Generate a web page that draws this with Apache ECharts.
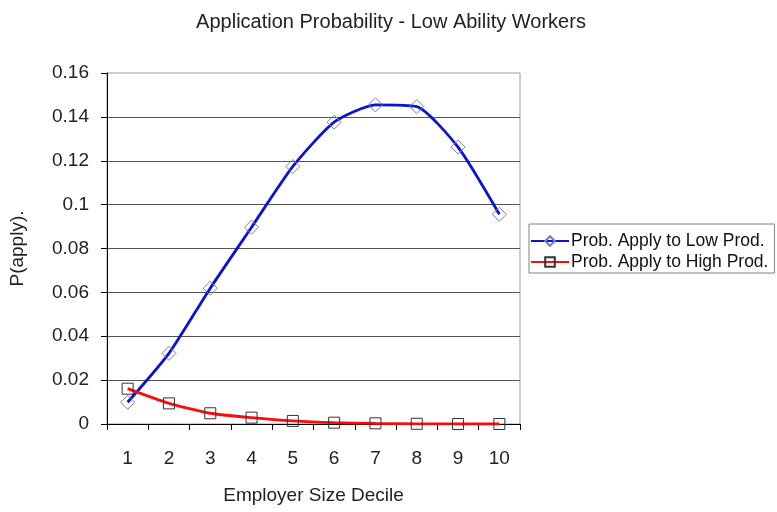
<!DOCTYPE html>
<html>
<head>
<meta charset="utf-8">
<script src="https://cdn.jsdelivr.net/npm/echarts@6/dist/echarts.min.js"></script>
<style>
html,body{margin:0;padding:0;background:#fff;}
#chart{width:777px;height:512px;}
</style>
</head>
<body>
<div id="chart"></div>
<script>
var categories = ['1','2','3','4','5','6','7','8','9','10'];
var lowProd = [0.0099, 0.0322, 0.0619, 0.0897, 0.1174, 0.1376, 0.1455, 0.1447, 0.1262, 0.0956];
var highProd = [0.0161, 0.0094, 0.0049, 0.0029, 0.0014, 0.0006, 0.0003, 0.0001, 0.0, 0.0];
var seriesNames = ['Prob. Apply to Low Prod.', 'Prob. Apply to High Prod.'];

var FONT = 'Liberation Sans, Arial, sans-serif';
var chart = echarts.init(document.getElementById('chart'), null, {renderer:'canvas'});
chart.setOption({
  animation: false,
  backgroundColor: '#fff',
  textStyle: {fontFamily: FONT},
  title: {
    text: 'Application Probability - Low Ability Workers',
    left: 386, top: 7, textAlign: 'center',
    textStyle: {fontFamily: FONT, fontSize: 20, fontWeight: 'normal', color: '#222'}
  },
  grid: {
    left: 107, right: 257, top: 73, bottom: 88,
    show: true, borderColor: '#9a9a9a', borderWidth: 1, backgroundColor: 'transparent'
  },
  legend: {
    orient: 'vertical',
    left: 529, top: 224,
    padding: [8, 6, 2, 1],
    itemGap: 3,
    itemWidth: 38, itemHeight: 12,
    borderColor: '#808080', borderWidth: 1,
    textStyle: {fontFamily: FONT, fontSize: 17.5, color: '#111', padding: [0,0,0,-3]},
    data: seriesNames
  },
  xAxis: {
    type: 'category',
    data: categories,
    boundaryGap: true,
    name: 'Employer Size Decile',
    nameLocation: 'middle',
    nameGap: 62,
    nameTextStyle: {fontFamily: FONT, fontSize: 19, color: '#222'},
    axisLine: {lineStyle: {color: '#000', width: 1}},
    axisTick: {show: true, alignWithLabel: false, length: 6, lineStyle: {color: '#000'}},
    axisLabel: {fontFamily: FONT, fontSize: 19, color: '#222', margin: 25},
    splitLine: {show: false}
  },
  yAxis: {
    type: 'value',
    min: 0, max: 0.16, interval: 0.02,
    name: 'P(apply).',
    nameLocation: 'middle',
    nameGap: 80,
    nameRotate: 90,
    nameTextStyle: {fontFamily: FONT, fontSize: 19, color: '#222'},
    axisLine: {show: true, lineStyle: {color: '#000', width: 1}},
    axisTick: {show: true, length: 6, lineStyle: {color: '#000'}},
    axisLabel: {fontFamily: FONT, fontSize: 19, color: '#222', margin: 18},
    splitLine: {show: true, showMaxLine: false, lineStyle: {color: '#555', width: 1}}
  },
  series: [
    {
      name: seriesNames[0],
      type: 'line',
      data: lowProd,
      smooth: 0.2,
      symbol: 'diamond',
      symbolSize: 14,
      lineStyle: {color: '#0a14d0', width: 2.8},
      itemStyle: {color: 'rgba(255,255,255,0)', borderColor: '#7a7ac8', borderWidth: 1}
    },
    {
      name: seriesNames[1],
      type: 'line',
      data: highProd,
      smooth: 0.2,
      symbol: 'rect',
      symbolSize: 11,
      lineStyle: {color: '#ff0a0a', width: 2.8},
      itemStyle: {color: 'rgba(255,255,255,0)', borderColor: '#333', borderWidth: 1}
    }
  ]
});
</script>
</body>
</html>
